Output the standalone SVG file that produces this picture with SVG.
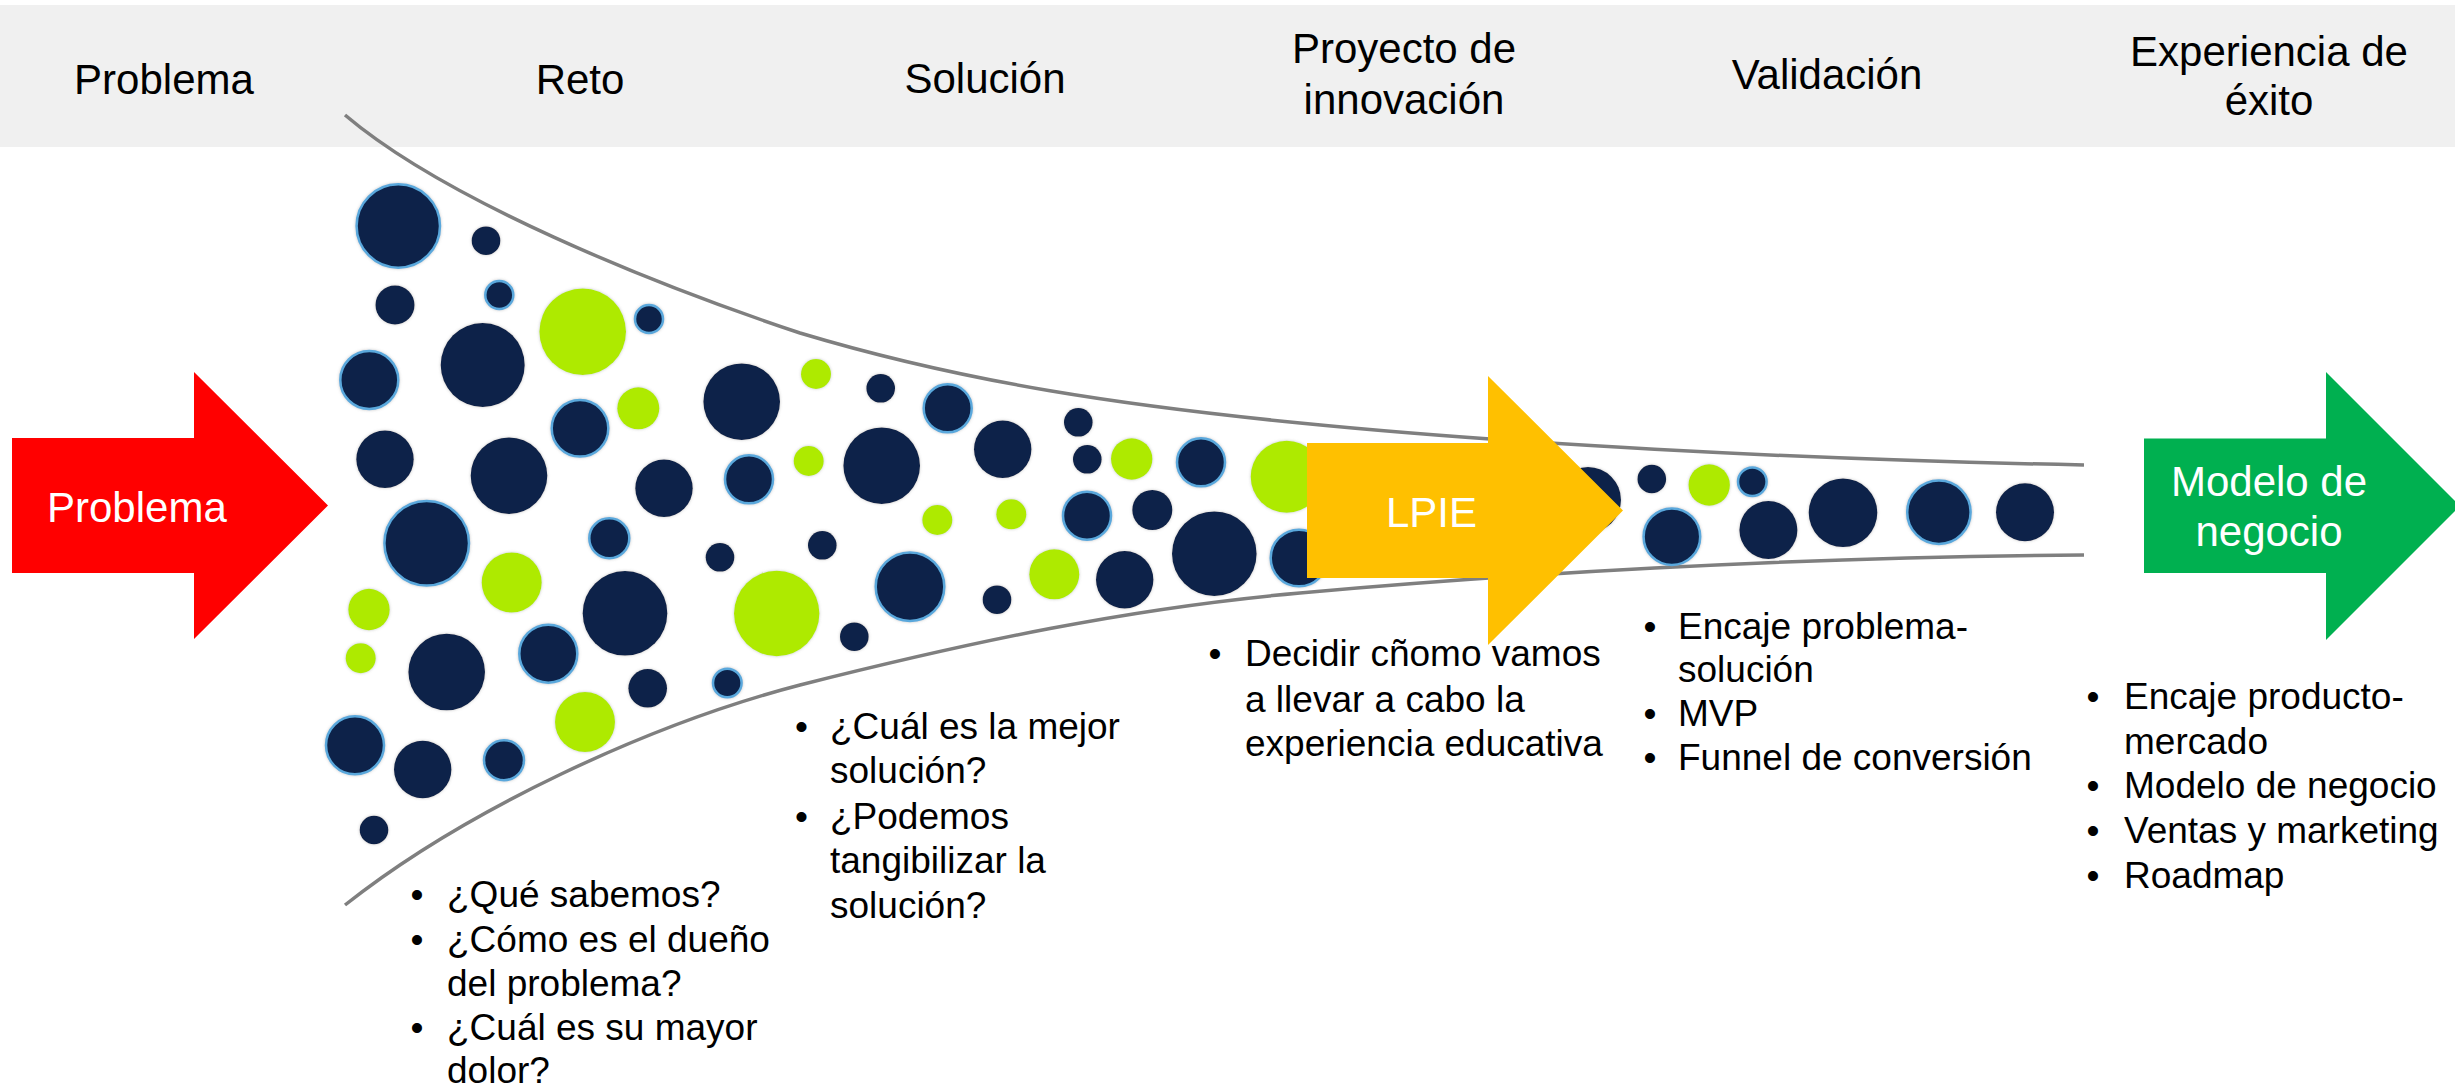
<svg xmlns="http://www.w3.org/2000/svg" width="2455" height="1092" viewBox="0 0 2455 1092">
  <defs>
    <style>
      .hdr { font-family: "Liberation Sans", Arial, sans-serif; font-size: 42px; fill: #000; text-anchor: middle; }
      .arr { font-family: "Liberation Sans", Arial, sans-serif; font-size: 42px; fill: #fff; }
      .bl { font-family: "Liberation Sans", Arial, sans-serif; font-size: 37px; fill: #000; }
      .n { fill: #0b234a; }
      .r { fill: #0b234a; stroke: #5aa8dc; stroke-width: 2.5; }
      .g { fill: #aeea00; }
      .funnel { fill: none; stroke: #7f7f7f; stroke-width: 3.5; }
    </style>
    <filter id="sh" x="-10%" y="-10%" width="120%" height="120%">
      <feDropShadow dx="0" dy="0" stdDeviation="1.5" flood-color="#808080" flood-opacity="0.45"/>
    </filter>
  </defs>

  <rect x="0" y="0" width="2455" height="1092" fill="#ffffff"/>

  <g id="header">
    <rect x="0" y="5" width="2455" height="142" fill="#f0f0f0"/>
    <text class="hdr" x="164" y="94">Problema</text>
    <text class="hdr" x="580" y="94">Reto</text>
    <text class="hdr" x="985" y="93">Solución</text>
    <text class="hdr" x="1404" y="63">Proyecto de</text>
    <text class="hdr" x="1404" y="114">innovación</text>
    <text class="hdr" x="1827" y="89">Validación</text>
    <text class="hdr" x="2269" y="66">Experiencia de</text>
    <text class="hdr" x="2269" y="115">éxito</text>
  </g>

  <g id="funnel">
    <path class="funnel" d="M345,115 C445,200 650,283 800,333 C970,384 1130,406 1300,423 C1500,443 1784,459 2084,465"/>
    <path class="funnel" d="M345,905 C465,810 650,724 800,685 C970,642 1130,608 1300,593 C1500,575 1784,557 2084,555"/>
  </g>

  <g id="circles" filter="url(#sh)">
    <circle class="r" cx="398.3" cy="226" r="41.7"/>
    <circle class="n" cx="486" cy="240.7" r="14.3"/>
    <circle class="n" cx="395" cy="305" r="19.5"/>
    <circle class="r" cx="499.3" cy="295" r="14"/>
    <circle class="g" cx="582.7" cy="331.7" r="43.3"/>
    <circle class="r" cx="649" cy="319" r="14"/>
    <circle class="r" cx="369.3" cy="380" r="29"/>
    <circle class="n" cx="482.7" cy="365" r="42"/>
    <circle class="g" cx="638.3" cy="408.3" r="21"/>
    <circle class="r" cx="580" cy="428.3" r="28.3"/>
    <circle class="n" cx="741.7" cy="401.7" r="38.3"/>
    <circle class="n" cx="385" cy="459.3" r="28.7"/>
    <circle class="n" cx="509" cy="475.7" r="38.3"/>
    <circle class="n" cx="664" cy="488.3" r="28.7"/>
    <circle class="r" cx="749" cy="479.3" r="24"/>
    <circle class="r" cx="426.7" cy="543.3" r="42.3"/>
    <circle class="r" cx="609.3" cy="538.3" r="20"/>
    <circle class="n" cx="720" cy="557.3" r="14.3"/>

    <circle class="g" cx="511.7" cy="582.5" r="30"/>
    <circle class="g" cx="369" cy="609.5" r="20.7"/>
    <circle class="g" cx="360.7" cy="658.2" r="15"/>
    <circle class="n" cx="446.7" cy="672" r="38.3"/>
    <circle class="r" cx="548.3" cy="653.7" r="29"/>
    <circle class="n" cx="625" cy="613.3" r="42.3"/>
    <circle class="g" cx="776.7" cy="613.5" r="42.7"/>
    <circle class="n" cx="647.7" cy="688.3" r="19.3"/>
    <circle class="r" cx="727.3" cy="683" r="14.3"/>
    <circle class="g" cx="585" cy="722" r="30"/>
    <circle class="r" cx="355" cy="745.3" r="29"/>
    <circle class="n" cx="422.7" cy="769.5" r="28.7"/>
    <circle class="r" cx="504" cy="760.2" r="20"/>
    <circle class="n" cx="374" cy="830" r="14.3"/>

    <circle class="g" cx="816" cy="374" r="15"/>
    <circle class="n" cx="880.7" cy="388.3" r="14.3"/>
    <circle class="r" cx="947.7" cy="408.3" r="24"/>
    <circle class="g" cx="808.7" cy="461" r="15"/>
    <circle class="n" cx="881.7" cy="465.7" r="38.3"/>
    <circle class="n" cx="1002.7" cy="449.3" r="28.7"/>
    <circle class="n" cx="1078.3" cy="422.3" r="14.3"/>
    <circle class="n" cx="1087.3" cy="459.3" r="14.3"/>
    <circle class="g" cx="1131.7" cy="459" r="20.7"/>
    <circle class="r" cx="1201" cy="462.3" r="24"/>
    <circle class="g" cx="1286.7" cy="476.7" r="36"/>
    <circle class="g" cx="937.3" cy="520" r="15"/>
    <circle class="g" cx="1011.3" cy="514.3" r="15"/>
    <circle class="r" cx="1087" cy="515.7" r="24"/>
    <circle class="n" cx="1152.3" cy="510" r="20"/>
    <circle class="n" cx="822.3" cy="545.3" r="14.3"/>
    <circle class="r" cx="910" cy="586.7" r="34.3"/>
    <circle class="n" cx="997" cy="599.7" r="14.3"/>
    <circle class="g" cx="1054.3" cy="574.3" r="25"/>
    <circle class="n" cx="1124.7" cy="579.7" r="28.7"/>
    <circle class="n" cx="1214.3" cy="553.7" r="42.3"/>
    <circle class="r" cx="1299" cy="558" r="28.3"/>
    <circle class="n" cx="854.3" cy="636.7" r="14.3"/>

    <circle class="n" cx="1588" cy="500" r="33"/>
    <circle class="n" cx="1651.8" cy="479" r="14.3"/>
    <circle class="g" cx="1709.2" cy="485" r="20.7"/>
    <circle class="r" cx="1752.3" cy="481.7" r="14.3"/>
    <circle class="r" cx="1671.9" cy="536.7" r="28.3"/>
    <circle class="n" cx="1768.4" cy="530" r="29"/>
    <circle class="n" cx="1843" cy="512.7" r="34.3"/>
    <circle class="r" cx="1938.9" cy="512.3" r="31.7"/>
    <circle class="n" cx="2025" cy="512.3" r="29"/>
  </g>

  <g id="arrow-problema">
    <path d="M12,438 H194 V372 L328,505.5 L194,639 V573 H12 Z" fill="#ff0000"/>
    <text class="arr" x="47" y="522">Problema</text>
  </g>

  <g id="arrow-lpie">
    <path d="M1307,443 H1488 V376 L1623,510.5 L1488,645 V578 H1307 Z" fill="#ffc000"/>
    <text class="arr" x="1386" y="527">LPIE</text>
  </g>

  <g id="arrow-modelo">
    <path d="M2144,438.5 H2326 V372 L2460,506 L2326,640 V573 H2144 Z" fill="#00b050"/>
    <text class="arr" x="2269" y="496" text-anchor="middle">Modelo de</text>
    <text class="arr" x="2269" y="546" text-anchor="middle">negocio</text>
  </g>

  <g id="bullets-reto">
    <text class="bl" x="410.5" y="907">•</text>
    <text class="bl" x="447" y="907">¿Qué sabemos?</text>
    <text class="bl" x="410.5" y="951.5">•</text>
    <text class="bl" x="447" y="951.5">¿Cómo es el dueño</text>
    <text class="bl" x="447" y="995.5">del problema?</text>
    <text class="bl" x="410.5" y="1040">•</text>
    <text class="bl" x="447" y="1040">¿Cuál es su mayor</text>
    <text class="bl" x="447" y="1083">dolor?</text>
  </g>

  <g id="bullets-solucion">
    <text class="bl" x="795" y="739">•</text>
    <text class="bl" x="830" y="739">¿Cuál es la mejor</text>
    <text class="bl" x="830" y="783">solución?</text>
    <text class="bl" x="795" y="829">•</text>
    <text class="bl" x="830" y="829">¿Podemos</text>
    <text class="bl" x="830" y="873">tangibilizar la</text>
    <text class="bl" x="830" y="918">solución?</text>
  </g>

  <g id="bullets-proyecto">
    <text class="bl" x="1208.5" y="666">•</text>
    <text class="bl" x="1245" y="666">Decidir cñomo vamos</text>
    <text class="bl" x="1245" y="711.5">a llevar a cabo la</text>
    <text class="bl" x="1245" y="756">experiencia educativa</text>
  </g>

  <g id="bullets-validacion">
    <text class="bl" x="1643.5" y="639">•</text>
    <text class="bl" x="1678" y="639">Encaje problema-</text>
    <text class="bl" x="1678" y="682">solución</text>
    <text class="bl" x="1643.5" y="726">•</text>
    <text class="bl" x="1678" y="726">MVP</text>
    <text class="bl" x="1643.5" y="770">•</text>
    <text class="bl" x="1678" y="770">Funnel de conversión</text>
  </g>

  <g id="bullets-exito">
    <text class="bl" x="2086.5" y="709">•</text>
    <text class="bl" x="2124" y="709">Encaje producto-</text>
    <text class="bl" x="2124" y="753.5">mercado</text>
    <text class="bl" x="2086.5" y="798">•</text>
    <text class="bl" x="2124" y="798">Modelo de negocio</text>
    <text class="bl" x="2086.5" y="843">•</text>
    <text class="bl" x="2124" y="843">Ventas y marketing</text>
    <text class="bl" x="2086.5" y="887.5">•</text>
    <text class="bl" x="2124" y="887.5">Roadmap</text>
  </g>
</svg>
